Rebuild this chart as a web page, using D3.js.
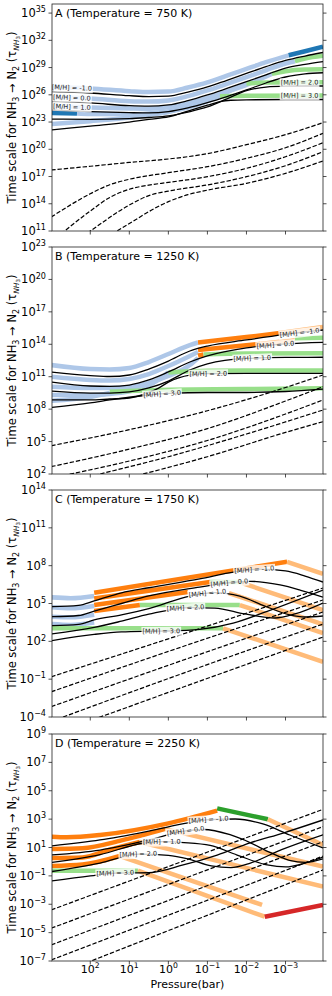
<!DOCTYPE html>
<html>
<head>
<meta charset="utf-8">
<script src="https://cdn.jsdelivr.net/npm/d3@7"></script>
<style>
  body { margin: 0; background: #fff; }
  svg { display: block; }
  text { font-family: "DejaVu Sans", sans-serif; fill: #000; }
</style>
</head>
<body>
<div id="chart"></div>
<script>
// values are [log10 P(bar), log10 tau]
const metal = [-1.0, 0.0, 1.0, 2.0, 3.0];
const temps = [750, 1250, 1750, 2250];
const letters = ["A", "B", "C", "D"];
const xTicks = [2, 1, 0, -1, -2, -3];
const xDom = [2.98, -3.96];

const yTicksA = [11, 14, 17, 20, 23, 26, 29, 32, 35];
const yTicksB = [2, 5, 8, 11, 14, 17, 20, 23];
const yTicksC = [-4, -1, 2, 5, 8, 11, 14];
const yTicksD = [-7, -5, -3, -1, 1, 3, 5, 7, 9];

// ---- panel A (750 K)
const blackA = [
  [[3,26.36],[2,26.2],[1,25.9],[0.5,25.8],[0,25.85],[-0.5,26.3],[-1,26.86],[-1.5,27.6],[-2,28.35],[-2.5,29.1],[-3,29.78],[-3.5,30.27],[-3.96,30.66]],
  [[3,25.24],[2,25.1],[1,24.8],[0.5,24.75],[0,24.88],[-0.5,25.35],[-1,25.98],[-1.5,26.7],[-2,27.44],[-2.5,28.2],[-3,28.95],[-3.5,29.35],[-3.96,29.65]],
  [[3,24.33],[2,24.14],[1,24.03],[0.5,24.0],[0,24.14],[-0.5,24.55],[-1,25.13],[-1.5,25.8],[-2,26.53],[-2.5,27.3],[-3,27.96],[-3.5,28.3],[-3.96,28.43]],
  [[3,23.33],[2,23.3],[1,23.37],[0.5,23.5],[0,23.67],[-0.5,24.1],[-1,24.66],[-1.5,25.55],[-2,26.45],[-2.5,26.85],[-3,26.95],[-3.5,26.97],[-3.96,26.97]],
  [[3,22.12],[2,22.56],[1,23.0],[0.5,23.3],[0,23.56],[-0.5,24.2],[-1,24.85],[-1.32,25.25],[-1.6,25.4],[-2,25.45],[-3,25.48],[-3.96,25.48]]
];
const bandA = [
  [["lb",[[3,26.86],[2,26.7],[1,26.4],[0.5,26.3],[0,26.35],[-0.5,26.8],[-1,27.36],[-1.5,28.1],[-2,28.85],[-2.5,29.6],[-3.08,30.35]]],
   ["db",[[-3.08,30.35],[-3.5,30.8],[-3.96,31.3]]]],
  [["lb",[[3,25.76],[2,25.6],[1,25.3],[0.5,25.25],[0,25.38],[-0.5,25.85],[-1,26.48],[-1.5,27.2],[-2,27.94],[-2.5,28.7],[-3,29.45],[-3.24,29.7]]],
   ["g",[[-3.24,29.7],[-3.5,30.0],[-3.96,30.3]]]],
  [["lb",[[3,24.77],[2,24.6],[1,24.5],[0.5,24.47],[0,24.62],[-0.5,25.05],[-1,25.65],[-1.5,26.35],[-2,27.1],[-2.65,28.3]]],
   ["g",[[-2.65,28.3],[-3,28.6],[-3.5,28.78],[-3.96,28.81]]]],
  [["db",[[3,24.0],[2.34,23.94]]],
   ["lb",[[2.34,23.94],[2,23.89],[1,23.85],[0.5,23.95],[0,24.15],[-0.5,24.6],[-1,25.3],[-1.5,26.3],[-2,27.25]]],
   ["g",[[-2,27.25],[-2.5,27.35],[-3.96,27.38]]]],
  [["lb",[[3,22.78],[2,23.1],[1,23.5],[0.5,23.8],[0,24.1],[-0.5,24.75],[-1,25.4],[-1.32,25.85]]],
   ["g",[[-1.32,25.85],[-2,25.9],[-3.96,25.92]]]]
];
const dashA = [
  [[3,17.72],[2,18.13],[1,18.55],[0,18.93],[-1,19.52],[-2,20.51],[-3,21.61],[-3.96,22.93]],
  [[3,12.54],[2,15.1],[1.5,16.1],[1,16.7],[0,17.42],[-1,18.08],[-2,19.0],[-3,20.17],[-3.96,21.76]],
  [[3,9.8],[2,13.2],[1.5,14.7],[1,15.6],[0.5,16.05],[0,16.35],[-1,16.98],[-2,17.9],[-3,19.18],[-3.96,20.72]],
  [[3,8.0],[2,11.0],[1,13.86],[0.5,14.9],[0,15.4],[-1,16.07],[-2,16.98],[-3,18.19],[-3.96,19.73]],
  [[3,7.0],[1.32,11.0],[0,14.23],[-0.5,15.0],[-1,15.5],[-2,16.25],[-3,17.35],[-3.96,18.71]]
];
const labA = { on: "band", at: [2.47, 2.47, 2.47, -3.36, -3.36] };

// ---- panel B (1250 K)
const blackB = [
  [[3,11.44],[2,11.11],[1.5,11.02],[1,11.16],[0.5,11.71],[0,12.45],[-0.55,13.38],[-1,13.84],[-2,14.4],[-3,14.91],[-3.96,15.32]],
  [[3,10.51],[2,10.14],[1.5,10.1],[1,10.23],[0.5,10.7],[0,11.44],[-0.55,12.36],[-1,12.92],[-2,13.66],[-3,14.03],[-3.96,14.18]],
  [[3,9.68],[2,9.49],[1.5,9.49],[1,9.59],[0.5,9.96],[0,10.6],[-0.55,11.62],[-1,12.18],[-2,12.69],[-3,12.78],[-3.96,12.8]],
  [[3,8.85],[2,8.85],[1.5,8.94],[1,9.03],[0.5,9.55],[0.25,9.95],[0,10.5],[-0.55,11.15],[-1,11.28],[-2,11.3],[-3,11.3],[-3.96,11.3]],
  [[3,8.15],[2,8.57],[1.5,8.85],[1,9.1],[0.5,9.31],[0,9.45],[-1,9.54],[-2,9.54],[-3,9.63],[-3.96,9.86]]
];
const bandB = [
  [["lb",[[3,12.08],[2,11.71],[1.5,11.67],[1,11.81],[0.5,12.36],[0,13.1],[-0.55,13.93],[-0.76,14.17]]],
   ["or",[[-0.76,14.17],[-2,14.67],[-2.86,15.04]]],
   ["lo",[[-2.86,15.04],[-3.96,15.6]]]],
  [["lb",[[3,11.0],[2,10.7],[1.5,10.65],[1,10.79],[0.5,11.25],[0,11.99],[-0.55,12.92],[-0.76,13.29]]],
   ["or",[[-0.76,13.47],[-2.35,14.03]]],
   ["lo",[[-2.35,14.03],[-3.24,14.4]]],
   ["g",[[-3.24,14.55],[-3.96,14.61]]]],
  [["lb",[[3,10.08],[2,9.96],[1.5,9.96],[1,10.05],[0.5,10.42],[0,11.07],[-0.55,12.08],[-0.76,12.73]]],
   ["or",[[-0.76,12.95],[-0.9,13.06]]],
   ["g",[[-0.9,13.06],[-2,13.15],[-3.96,13.17]]]],
  [["lb",[[3,9.31],[2,9.31],[1.5,9.4],[1,9.65],[0.5,10.2],[0,11.4]]],
   ["g",[[0,11.4],[-1,11.55],[-3.96,11.58]]]],
  [["lb",[[3,8.78],[2,9.12],[1.5,9.5]]],
   ["g",[[1.5,9.6],[0,9.8],[-2,9.86],[-3.96,9.93]]]]
];
const dashB = [
  [[3,4.62],[1,6.1],[-1,7.85],[-3,10.0],[-3.96,11.16]],
  [[3,2.68],[1,4.3],[-1,6.2],[-3,8.75],[-3.96,10.08]],
  [[3,1.63],[1,3.2],[-1,5.1],[-3,7.55],[-3.96,8.85]],
  [[3,0.9],[1.75,2.0],[0,3.6],[-2,5.7],[-3.96,7.92]],
  [[3,0.0],[0.65,2.0],[-1,3.6],[-3,5.85],[-3.96,6.84]]
];
const labB = { on: "line", at: [-3.36, -2.74, -2.15, -1.02, 0.16] };

// ---- panel C (1750 K)
const blackC = [
  [[3,4.75],[2.3,4.85],[1.9,5.2],[1.2,5.85],[0.5,6.25],[-0.8,6.95],[-1.7,7.5],[-2.35,7.72],[-3,7.58],[-3.5,7.18],[-3.96,6.7]],
  [[3,3.95],[2.3,4.05],[1.9,4.4],[1.2,5.0],[0.5,5.6],[-0.8,6.3],[-1.58,6.66],[-2.1,6.76],[-2.86,6.47],[-3.37,6.07],[-3.96,5.51]],
  [[3,3.24],[2.3,3.35],[1.9,3.7],[1.2,4.1],[0.5,4.6],[-0.55,5.59],[-1.19,5.87],[-1.83,5.59],[-2.47,4.8],[-3.11,4.09],[-3.5,3.93],[-3.96,4.01]],
  [[3,2.58],[1.9,3.1],[1.2,3.6],[0.5,4.15],[-0.55,4.68],[-1.19,4.64],[-1.96,4.17],[-2.73,3.85],[-3.24,4.17],[-3.96,5.04]],
  [[3,2.05],[1.9,2.55],[1.2,2.75],[0.5,2.8],[0,2.82],[-0.8,2.95],[-1.66,3.45],[-2.53,4.38],[-3.96,6.07]]
];
const bandC = [
  [["lb",[[3,5.49],[2.5,5.42],[1.9,5.6]]],
   ["or",[[1.9,5.86],[-3.04,8.31]]],
   ["lo",[[-3.04,8.31],[-3.96,7.34]]]],
  [["lb",[[3,4.7],[2.5,4.62],[1.9,4.8]]],
   ["or",[[1.9,5.39],[-1.07,6.7]]],
   ["g",[[-1.07,6.7],[-1.89,6.7]]],
   ["lo",[[-1.89,6.62],[-3.96,4.48]]]],
  [["lb",[[3,3.95],[2.5,3.9],[1.9,4.1]]],
   ["or",[[1.9,4.88],[-0.5,5.91]]],
   ["lo",[[-1.55,5.83],[-3.96,3.35]]]],
  [["lb",[[3,3.37],[2.5,3.3],[1.9,3.5]]],
   ["or",[[1.9,4.41],[0.73,4.88]]],
   ["g",[[0.73,4.88],[-1.83,4.88]]],
   ["lo",[[-1.83,4.88],[-3.96,2.66]]]],
  [["g",[[3,3.03],[-1.4,3.03]]],
   ["lo",[[-1.4,3.03],[-3.96,0.38]]]]
];
const dashC = [
  [[3,-0.81],[0,2.2],[-3.96,6.23]],
  [[3,-2.0],[0,1.2],[-3.96,5.28]],
  [[3,-3.18],[0,0.1],[-3.96,4.33]],
  [[3,-4.35],[0,-0.95],[-3.96,3.37]],
  [[3,-5.3],[1.75,-4.0],[0,-2.05],[-3.96,2.34]]
];
const labC = { on: "line", at: [-2.2, -1.56, -1.0, -0.44, 0.18] };

// ---- panel D (2250 K)
const blackD = [
  [[3,1.11],[1.75,1.53],[0.5,2.16],[-0.5,2.73],[-1.04,2.97],[-1.71,3.01],[-2.42,2.66],[-3.11,1.88],[-3.96,0.97]],
  [[3,0.47],[1.75,0.82],[0.5,1.53],[-0.4,2.16],[-0.89,2.27],[-1.58,1.9],[-2.09,1.35],[-2.6,0.65],[-3.1,0.1],[-3.5,-0.05],[-3.96,0.2]],
  [[3,-0.06],[1.75,0.5],[0.65,1.3],[0.15,1.41],[-0.4,1.35],[-1.07,1.15],[-1.76,0.47],[-2.53,-0.23],[-3,-0.37],[-3.5,-0.1],[-3.96,0.33]],
  [[3,-0.7],[1.75,-0.1],[0.75,0.54],[0,0.45],[-0.5,0.2],[-1.1,-0.3],[-1.6,-0.42],[-2.1,-0.1],[-2.9,0.85],[-3.96,1.9]],
  [[3,-1.36],[2,-1.0],[1.35,-0.8],[0.5,-0.78],[-0.38,-0.23],[-1.25,0.47],[-2.09,1.32],[-2.94,2.02],[-3.96,2.94]]
];
const bandD = [
  [["or",[[3,1.76],[2.6,1.72],[1.75,1.88],[0,2.7],[-1.25,3.6]]],
   ["dg",[[-1.25,3.76],[-2.55,2.99]]],
   ["lo",[[-2.55,2.99],[-3.96,1.18]]]],
  [["or",[[3,0.9],[2.2,0.95],[1.2,1.5],[0.08,2.31]]],
   ["lo",[[0.08,2.31],[-3.96,-0.35]]]],
  [["or",[[3,0.26],[2.2,0.3],[1.5,0.85],[0.73,1.39]]],
   ["lo",[[0.73,1.39],[-3.96,-1.76]]]],
  [["or",[[3,-0.3],[2.2,-0.2],[1.24,0.4]]],
   ["lo",[[1.24,0.4],[-2.4,-3.05]]]],
  [["g",[[3,-0.63],[0.78,-0.63]]],
   ["lo",[[0.78,-0.63],[-2.47,-3.88]]],
   ["r",[[-2.47,-3.88],[-3.96,-3.05]]]]
];
const dashD = [
  [[3,-3.4],[-3.96,3.69]],
  [[3,-4.69],[-3.96,2.47]],
  [[3,-5.87],[-3.96,1.41]],
  [[3,-6.93],[-3.96,0.4]],
  [[3,-8.1],[-3.96,-0.58]]
];
const labD = { on: "line", at: [-1.03, -0.44, 0.17, 0.77, 1.36] };

const colors = { lb: "#aec7e8", db: "#1f77b4", g: "#98df8a", dg: "#2ca02c", or: "#ff7f0e", lo: "#ffbb78", r: "#d62728" };

const W = 332, H = 996;
const X0 = 52, X1 = 323;
const panels = [
  { top: 4,   bottom: 231, yDom: [11, 36], yTicks: yTicksA, black: blackA, band: bandA, dash: dashA, lab: labA },
  { top: 247, bottom: 474, yDom: [2, 23],  yTicks: yTicksB, black: blackB, band: bandB, dash: dashB, lab: labB },
  { top: 490, bottom: 717, yDom: [-4, 14], yTicks: yTicksC, black: blackC, band: bandC, dash: dashC, lab: labC },
  { top: 734, bottom: 961, yDom: [-7, 9],  yTicks: yTicksD, black: blackD, band: bandD, dash: dashD, lab: labD }
];

const svg = d3.select("#chart").append("svg").attr("width", W).attr("height", H);
const x = d3.scaleLog().domain(xDom.map(e => 10 ** e)).range([X0, X1]);
const expText = e => (e < 0 ? "\u2212" + (-e) : "" + e);

function powLabel(sel, e, size) {
  sel.append("tspan").text("10");
  sel.append("tspan").attr("font-size", size * 0.7).attr("dy", -size * 0.42).text(expText(e));
}

// find the point of a drawn path at a given pixel x
function pointAtX(node, px) {
  let lo = 0, hi = node.getTotalLength();
  for (let k = 0; k < 30; k++) {
    const mid = (lo + hi) / 2;
    if (node.getPointAtLength(mid).x < px) lo = mid; else hi = mid;
  }
  return node.getPointAtLength((lo + hi) / 2);
}

panels.forEach((pn, i) => {
  const y = d3.scaleLog().domain([10 ** pn.yDom[0], 10 ** pn.yDom[1]]).range([pn.bottom, pn.top]);
  const line = d3.line().x(d => x(10 ** d[0])).y(d => y(10 ** d[1])).curve(d3.curveMonotoneX);

  svg.append("clipPath").attr("id", "clip" + i)
    .append("rect").attr("x", X0).attr("y", pn.top).attr("width", X1 - X0).attr("height", pn.bottom - pn.top);

  const plot = svg.append("g").attr("clip-path", `url(#clip${i})`);

  // thick coloured bands
  const bandNodes = pn.band.map(segs => segs.map(([c, pts]) => ({
    pts,
    node: plot.append("path").attr("d", line(pts)).attr("fill", "none")
      .attr("stroke", colors[c]).attr("stroke-width", 4.5).node()
  })));

  // solid black lines
  const blackNodes = pn.black.map(pts =>
    plot.append("path").attr("d", line(pts)).attr("fill", "none")
      .attr("stroke", "#000").attr("stroke-width", 1.3).node());

  // dashed lines
  pn.dash.forEach(pts =>
    plot.append("path").attr("d", line(pts)).attr("fill", "none")
      .attr("stroke", "#000").attr("stroke-width", 1.2).attr("stroke-dasharray", "4.4,1.9"));

  // inline labels
  pn.lab.at.forEach((lp, k) => {
    let node;
    if (pn.lab.on === "band") {
      const seg = bandNodes[k].find(s => s.pts[0][0] >= lp && s.pts[s.pts.length - 1][0] <= lp);
      node = seg.node;
    } else node = blackNodes[k];
    const px = x(10 ** lp);
    const p = pointAtX(node, px);
    const p1 = pointAtX(node, px - 4), p2 = pointAtX(node, px + 4);
    const ang = Math.atan2(p2.y - p1.y, p2.x - p1.x) * 180 / Math.PI;
    const lg = svg.append("g").attr("transform", `translate(${p.x},${p.y}) rotate(${ang})`);
    const t = lg.append("text").attr("text-anchor", "middle").attr("dy", "0.35em")
      .attr("font-size", 6.5).style("fill", "#222").text(`[M/H] = ${metal[k].toFixed(1)}`);
    const bb = t.node().getBBox();
    lg.insert("rect", "text").attr("x", bb.x - 1).attr("y", bb.y - 0.5)
      .attr("width", bb.width + 2).attr("height", bb.height + 1)
      .attr("fill", "#fff").attr("fill-opacity", 0.8);
  });

  // frame
  svg.append("rect").attr("x", X0).attr("y", pn.top).attr("width", X1 - X0).attr("height", pn.bottom - pn.top)
    .attr("fill", "none").attr("stroke", "#222").attr("stroke-width", 0.8);

  // y ticks, both sides
  pn.yTicks.forEach(e => {
    const ty = y(10 ** e);
    svg.append("line").attr("x1", X0 - 3.5).attr("x2", X0).attr("y1", ty).attr("y2", ty).attr("stroke", "#222").attr("stroke-width", 0.8);
    svg.append("line").attr("x1", X1).attr("x2", X1 + 3.5).attr("y1", ty).attr("y2", ty).attr("stroke", "#222").attr("stroke-width", 0.8);
    const t = svg.append("text").attr("x", X0 - 6).attr("y", ty + 4).attr("text-anchor", "end").attr("font-size", 11.5);
    powLabel(t, e, 11.5);
  });

  // x ticks
  xTicks.forEach(e => {
    const tx = x(10 ** e);
    svg.append("line").attr("x1", tx).attr("x2", tx).attr("y1", pn.bottom).attr("y2", pn.bottom + 3.5).attr("stroke", "#222").attr("stroke-width", 0.8);
    if (i === panels.length - 1) {
      const t = svg.append("text").attr("x", tx).attr("y", pn.bottom + 11.5).attr("text-anchor", "middle").attr("font-size", 11);
      powLabel(t, e, 11);
    }
  });

  // panel title
  svg.append("text").attr("x", 55).attr("y", pn.top + 12.5).attr("font-size", 11)
    .text(`${letters[i]} (Temperature = ${temps[i]} K)`);

  // y axis label
  const cy = (pn.top + pn.bottom) / 2;
  const yl = svg.append("text").attr("transform", `translate(16,${cy}) rotate(-90)`)
    .attr("text-anchor", "middle").attr("font-size", 11.5);
  yl.append("tspan").text("Time scale for NH");
  yl.append("tspan").attr("font-size", 8).attr("dy", 2.5).text("3");
  yl.append("tspan").attr("dy", -2.5).text(" \u2192 N");
  yl.append("tspan").attr("font-size", 8).attr("dy", 2.5).text("2");
  yl.append("tspan").attr("dy", -2.5).text(" (\u03c4");
  yl.append("tspan").attr("font-size", 7.5).attr("font-style", "italic").attr("dy", 2.5).text("NH");
  yl.append("tspan").attr("font-size", 5.5).attr("dy", 1.5).text("3");
  yl.append("tspan").attr("dy", -4).text(")");
});

svg.append("text").attr("x", (X0 + X1) / 2).attr("y", 988).attr("text-anchor", "middle")
  .attr("font-size", 11).text("Pressure(bar)");
</script>
</body>
</html>
